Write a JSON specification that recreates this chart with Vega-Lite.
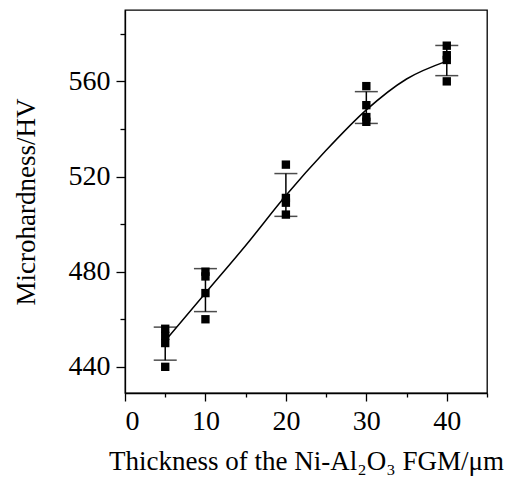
{
  "$schema": "https://vega.github.io/schema/vega-lite/v6.json",
  "width": 362,
  "height": 383,
  "autosize": "none",
  "padding": {"left": 125, "top": 10, "right": 21, "bottom": 86},
  "background": "white",
  "config": {
    "view": {"stroke": "black", "strokeWidth": 1.3},
    "axis": {
      "domainColor": "black", "tickColor": "black", "labelColor": "black", "titleColor": "black",
      "labelFont": "Liberation Serif", "titleFont": "Liberation Serif", "grid": false,
      "domainWidth": 1.3, "tickWidth": 1.3, "titleFontWeight": "normal", "labelFontSize": 28, "titleFontSize": 27
    }
  },
  "datasets": {
    "points": [
      {"thickness": 5, "hv": 456}, {"thickness": 5, "hv": 453}, {"thickness": 5, "hv": 450}, {"thickness": 5, "hv": 440},
      {"thickness": 10, "hv": 480}, {"thickness": 10, "hv": 478}, {"thickness": 10, "hv": 471}, {"thickness": 10, "hv": 460},
      {"thickness": 20, "hv": 525}, {"thickness": 20, "hv": 511}, {"thickness": 20, "hv": 509}, {"thickness": 20, "hv": 504},
      {"thickness": 30, "hv": 558}, {"thickness": 30, "hv": 550}, {"thickness": 30, "hv": 545}, {"thickness": 30, "hv": 543},
      {"thickness": 40, "hv": 575}, {"thickness": 40, "hv": 571}, {"thickness": 40, "hv": 569}, {"thickness": 40, "hv": 560}
    ],
    "curve": [
      {"thickness": 5, "hv": 451}, {"thickness": 10, "hv": 471}, {"thickness": 15, "hv": 491},
      {"thickness": 20, "hv": 512}, {"thickness": 25, "hv": 531}, {"thickness": 30, "hv": 548},
      {"thickness": 35, "hv": 561}, {"thickness": 40, "hv": 568.5}
    ]
  },
  "layer": [
    {
      "data": {"name": "points"},
      "mark": {"type": "errorbar", "extent": "stdev", "ticks": {"size": 23, "thickness": 1.5}, "thickness": 1.5, "color": "black"},
      "encoding": {
        "x": {"field": "thickness", "type": "quantitative", "scale": {"domain": [0, 45], "nice": false},
          "axis": {"orient": "bottom", "values": [0, 10, 20, 30, 40], "tickSize": 8, "labelPadding": 6, "title": "Thickness of the Ni-Al₂O₃ FGM/μm", "titlePadding": 13}},
        "y": {"field": "hv", "type": "quantitative", "scale": {"domain": [429, 590], "nice": false, "zero": false},
          "axis": {"orient": "left", "values": [440, 480, 520, 560], "tickSize": 9, "labelPadding": 6, "title": "Microhardness/HV", "titlePadding": 28}}
      }
    },
    {
      "data": {"name": "points"},
      "mark": {"type": "point", "shape": "square", "filled": true, "size": 70, "color": "black", "opacity": 1},
      "encoding": {
        "x": {"field": "thickness", "type": "quantitative", "scale": {"domain": [0, 45], "nice": false},
          "axis": {"orient": "bottom", "values": [5, 15, 25, 35, 45], "tickSize": 4, "labels": false, "domain": false, "title": null}},
        "y": {"field": "hv", "type": "quantitative", "scale": {"domain": [429, 590], "nice": false, "zero": false},
          "axis": {"orient": "left", "values": [460, 500, 540, 580], "tickSize": 5, "labels": false, "domain": false, "title": null}}
      }
    },
    {
      "data": {"name": "curve"},
      "mark": {"type": "line", "interpolate": "monotone", "color": "black", "strokeWidth": 1.5},
      "encoding": {
        "x": {"field": "thickness", "type": "quantitative", "axis": null},
        "y": {"field": "hv", "type": "quantitative", "axis": null}
      }
    }
  ],
  "resolve": {"axis": {"x": "independent", "y": "independent"}}
}
